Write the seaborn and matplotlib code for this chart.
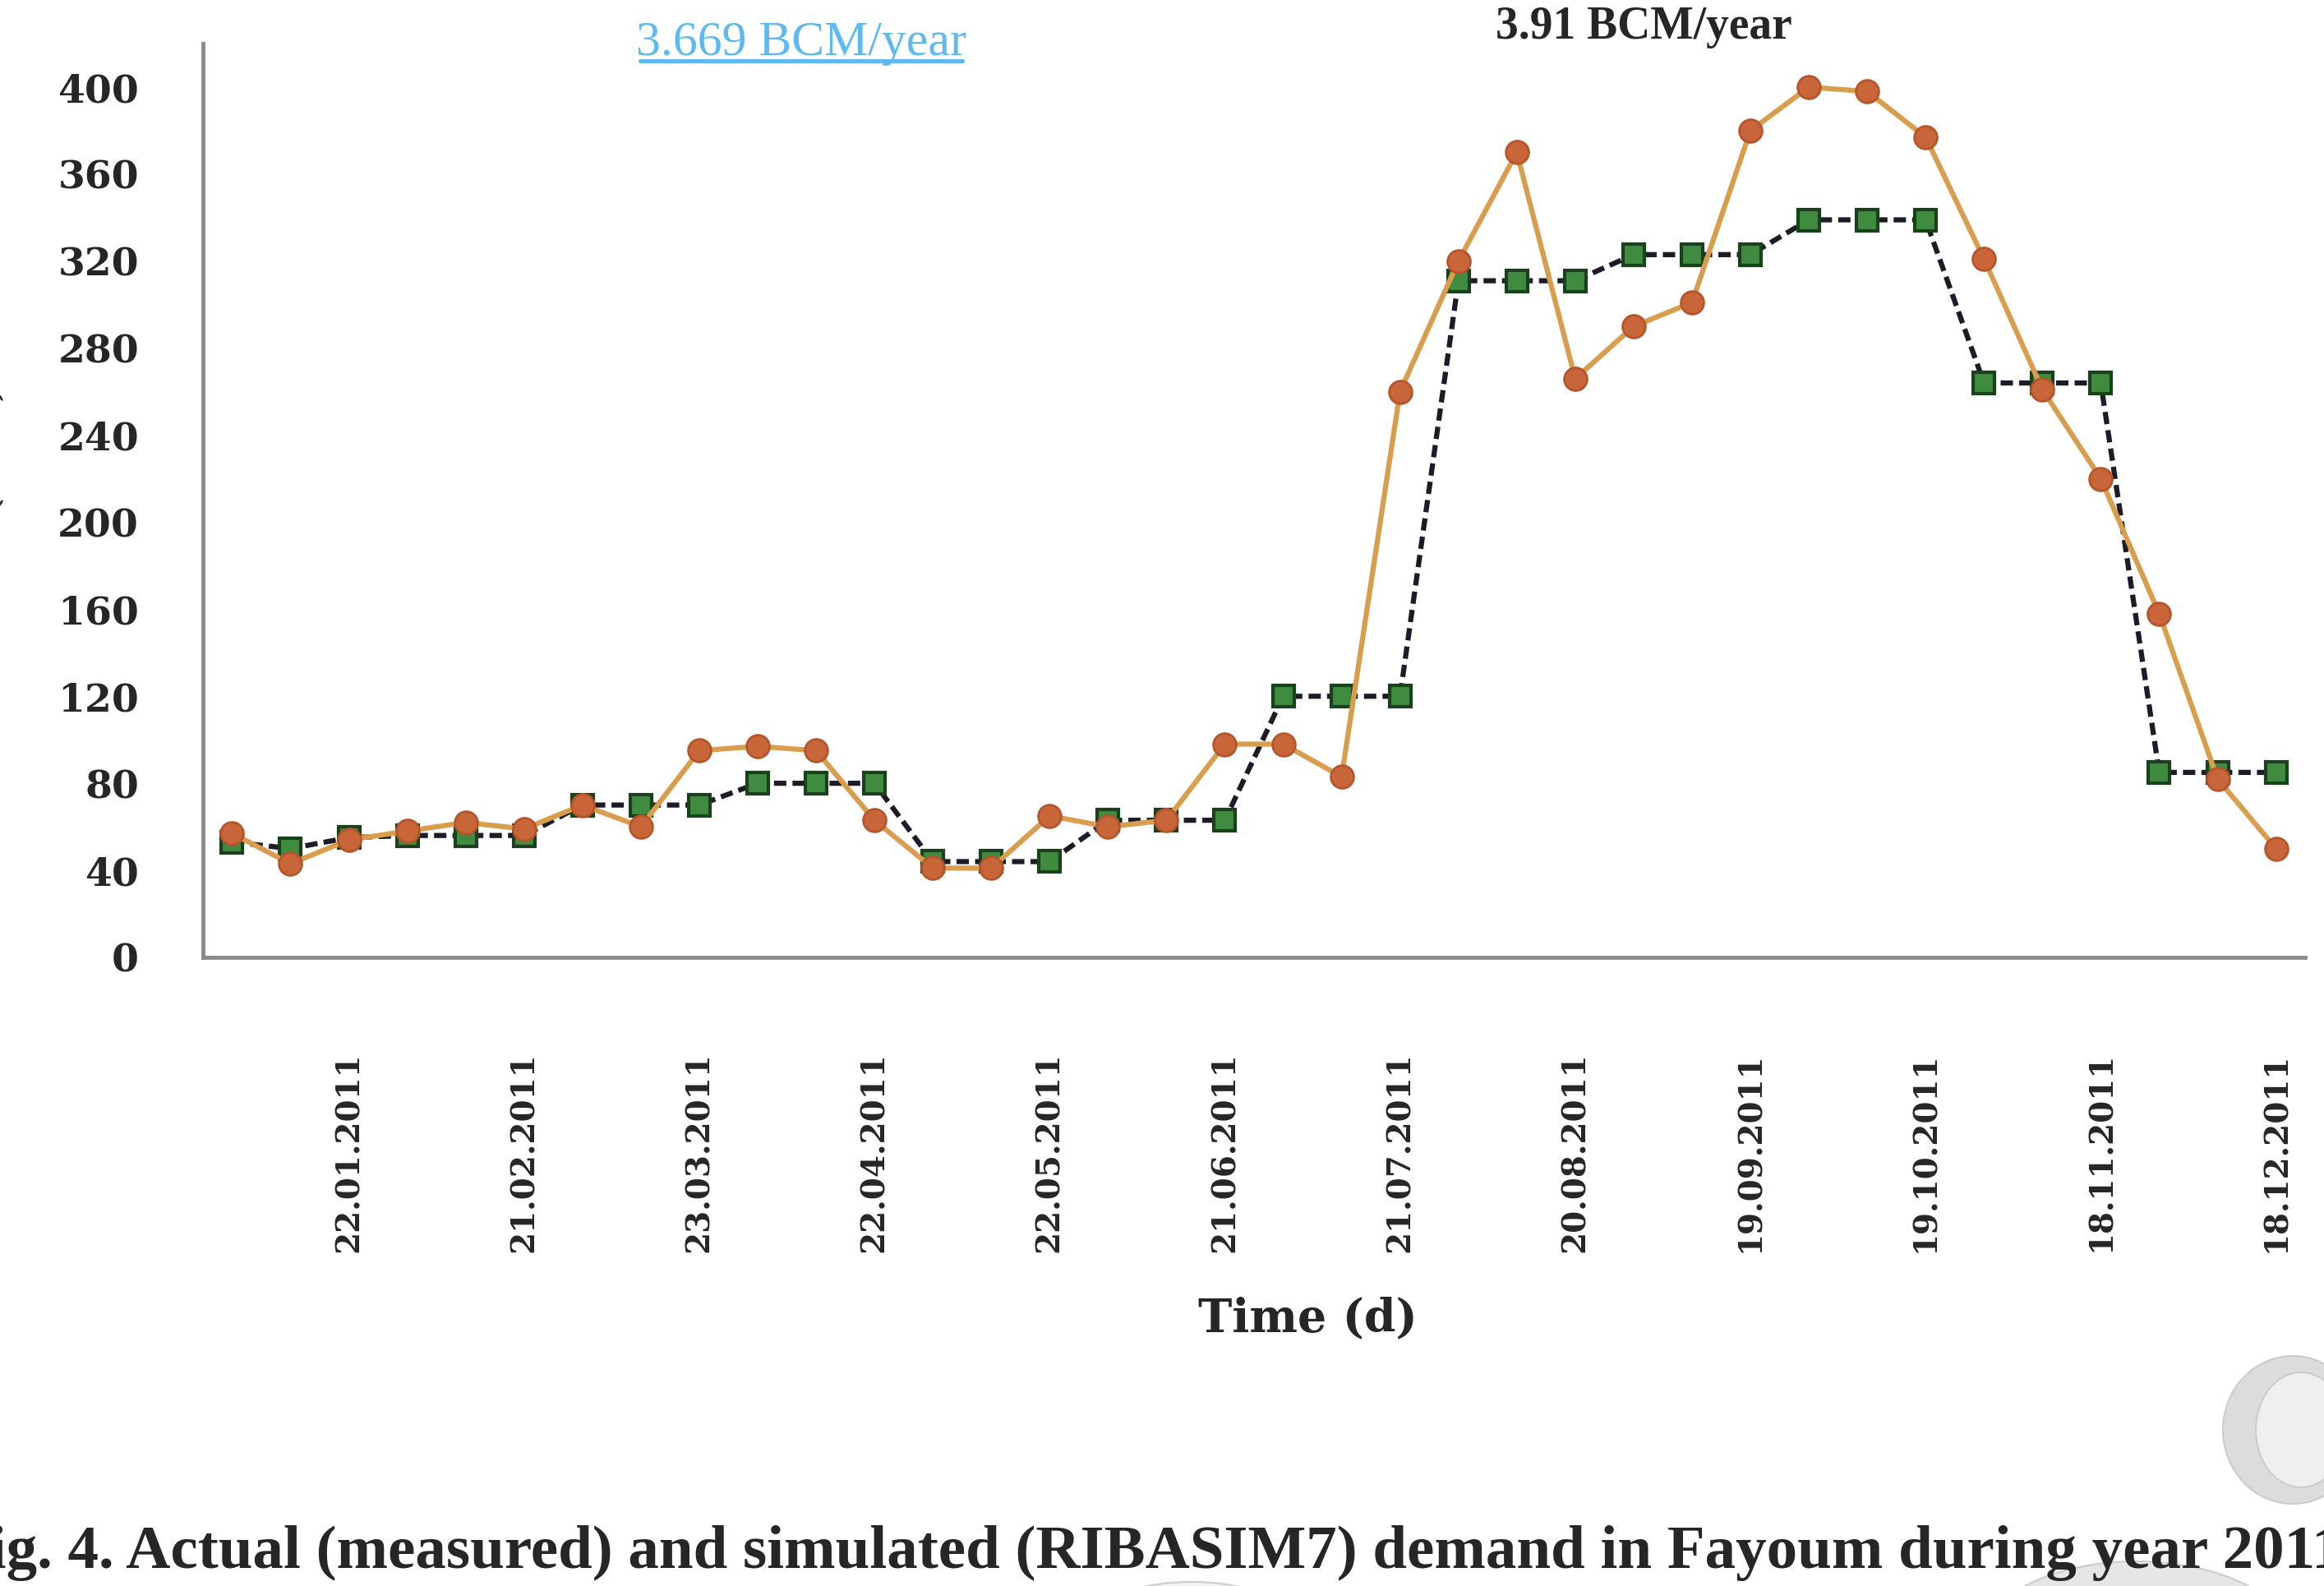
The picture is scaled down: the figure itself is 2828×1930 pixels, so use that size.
import numpy as np
import pandas as pd
import matplotlib.pyplot as plt
import seaborn as sns
from matplotlib.patches import Ellipse
from matplotlib.lines import Line2D

# Valores (um ponto a cada 10 dias, ano 2011)
actual = [57, 43, 54, 58, 62, 59, 70, 60, 95, 97, 95, 63,
          41, 41, 65, 60, 63, 98, 98, 83, 260, 320, 370, 266,
          290, 301, 380, 400, 398, 377, 321, 261, 220, 158, 82, 50]
simulated = [53, 50, 55, 56, 56, 56, 70, 70, 70, 80, 80, 80,
             44, 44, 44, 63, 63, 63, 120, 120, 120, 311, 311, 311,
             323, 323, 323, 339, 339, 339, 264, 264, 264, 85, 85, 85]
date_pos = [2, 5, 8, 11, 14, 17, 20, 23, 26, 29, 32, 35]
date_labels = ['22.01.2011', '21.02.2011', '23.03.2011', '22.04.2011',
               '22.05.2011', '21.06.2011', '21.07.2011', '20.08.2011',
               '19.09.2011', '19.10.2011', '18.11.2011', '18.12.2011']
y_ticks = [0, 40, 80, 120, 160, 200, 240, 280, 320, 360, 400]

sns.set_style('white')
plt.rcParams['font.family'] = ['DejaVu Serif']
narrow = ['Liberation Serif', 'DejaVu Serif']

dt = pd.DataFrame({'t': np.arange(len(actual)), 'Actual': actual, 'Simulated': simulated})

fig = plt.figure(figsize=(28.28, 19.30), dpi=100)

# Decoração cinza no fundo (canto inferior direito)
for (cx, cy, w, h, fc) in [(2790, 1740, 170, 180, '#dcdcdc'), (2800, 1740, 110, 140, '#efefef'),
                           (2600, 2000, 380, 200, '#e6e6e6'), (1450, 1965, 220, 80, '#f3f3f3')]:
    fig.patches.append(Ellipse((cx / 2828, 1 - cy / 1930), w / 2828, h / 1930,
                               transform=fig.transFigure, fc=fc, ec='#cccccc', lw=1.5, zorder=0))

ax = fig.add_axes([0.0873, 0.3964, 0.9046, 0.5761])
ax.patch.set_alpha(0)

# Simulado (RIBASIM7) e medido
sns.lineplot(data=dt, x='t', y='Simulated', ax=ax, color='#1c1c28', lw=4.5,
             linestyle=(0, (2.4, 1.2)), marker='s', markersize=19,
             markerfacecolor='#3f8c40', markeredgecolor='#1b401d', markeredgewidth=3, zorder=3)
sns.lineplot(data=dt, x='t', y='Actual', ax=ax, color='#d99d4e', lw=4.5,
             marker='o', markersize=20, markerfacecolor='#c8663a',
             markeredgecolor='#b5552b', markeredgewidth=2, zorder=4)

# Formatação dos eixos
ax.set_xlim(-0.5, 35.5)
ax.set_ylim(0, 420)
ax.set_xlabel('')
ax.set_ylabel('')
ax.set_yticks(y_ticks)
ax.set_yticklabels([str(v) for v in y_ticks], fontsize=34, fontweight='bold')
ax.set_xticks(date_pos)
ax.set_xticklabels(date_labels, rotation=90, fontsize=28, fontweight='bold')
ax.set_xticks(np.arange(-0.5, 36, 1), minor=True)
ax.tick_params(axis='x', which='major', length=0, pad=83)
ax.tick_params(axis='x', which='minor', length=14, width=3, color='#8a8a8a', direction='out')
ax.tick_params(axis='y', length=14, width=3, color='#8a8a8a', direction='out', pad=42)
for s in ['top', 'right']:
    ax.spines[s].set_visible(False)
for s in ['left', 'bottom']:
    ax.spines[s].set_color('#8a8a8a')
    ax.spines[s].set_linewidth(3.5)

# Textos
fig.text(1591 / 2828, 1 - 1605 / 1930, 'Time (d)', ha='center', va='center',
         fontsize=40, fontweight='bold')
fig.text(7 / 2828, 1 - 470 / 1930, 'Demand (MCM)', rotation=90, ha='right', va='top',
         fontsize=28, fontweight='bold')
fig.text(2000 / 2828, 1 - 47 / 1930, '3.91 BCM/year', ha='center', va='baseline',
         fontsize=40, fontweight='bold', family=narrow)
fig.text(975 / 2828, 1 - 67 / 1930, '3.669 BCM/year', ha='center', va='baseline',
         fontsize=43, color='#5db9f0', family=narrow)
fig.lines.append(Line2D([779 / 2828, 1171 / 2828], [1 - 74 / 1930, 1 - 74 / 1930],
                        transform=fig.transFigure, color='#5db9f0', lw=3.6))
fig.text(2850 / 2828, 1 - 1908 / 1930,
         'Fig. 4. Actual (measured) and simulated (RIBASIM7) demand in Fayoum during year 2011',
         ha='right', va='baseline', fontsize=54, fontweight='bold', family=narrow)

plt.savefig('out.png', format='png', dpi=100)
plt.close()
